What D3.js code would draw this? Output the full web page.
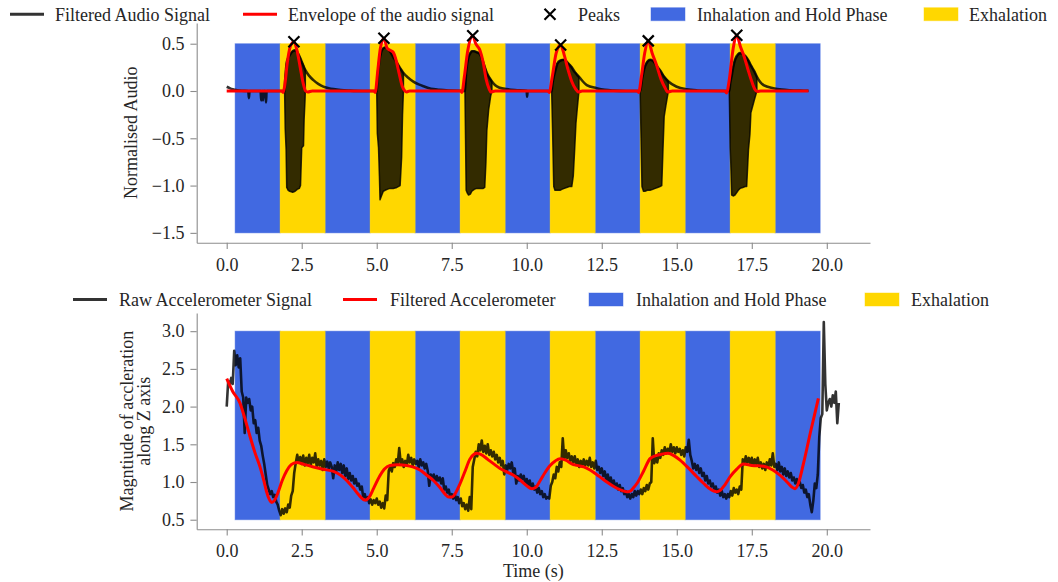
<!DOCTYPE html>
<html>
<head>
<meta charset="utf-8">
<script src="https://cdn.jsdelivr.net/npm/d3@7"></script>
<style>
  html, body { margin: 0; padding: 0; background: #fff; }
  svg { display: block; }
  text { font-family: "Liberation Serif", "Times New Roman", serif; fill: #262626; }
</style>
</head>
<body>
<svg id="chart" width="1058" height="582"></svg>
<script>
// ---------------- DATA ----------------
const inhaleStart = [0.28, 3.28, 6.28, 9.28, 12.28, 15.28, 18.28];
const inhaleEnd   = [1.78, 4.78, 7.78, 10.78, 13.78, 16.78, 19.78];
const exhaleStart = [1.78, 4.78, 7.78, 10.78, 13.78, 16.78];
const exhaleEnd   = [3.28, 6.28, 9.28, 12.28, 15.28, 18.28];

const xTicks = [0, 2.5, 5, 7.5, 10, 12.5, 15, 17.5, 20];
const audioYTicks = [-1.5, -1.0, -0.5, 0.0, 0.5];
const accelYTicks = [0.5, 1.0, 1.5, 2.0, 2.5, 3.0];

// Filtered audio: dense oscillation bursts (upper / lower outline)
const burstTime = [
  [1.93, 1.95, 1.98, 2.0, 2.05, 2.1, 2.2, 2.28, 2.35, 2.42, 2.46, 2.5, 2.56, 2.58, 2.61, 2.62],
  [5.0, 5.02, 5.06, 5.09, 5.11, 5.17, 5.22, 5.28, 5.35, 5.44, 5.55, 5.67, 5.78, 5.83, 5.86, 5.89],
  [7.94, 7.96, 7.98, 8.02, 8.06, 8.12, 8.17, 8.25, 8.33, 8.44, 8.55, 8.6, 8.64, 8.67, 8.73, 8.8, 8.84],
  [10.83, 10.86, 10.9, 10.94, 11.02, 11.11, 11.17, 11.25, 11.33, 11.42, 11.5, 11.55, 11.6, 11.64, 11.68, 11.74],
  [13.78, 13.81, 13.84, 13.89, 13.94, 14.02, 14.11, 14.2, 14.28, 14.36, 14.44, 14.5, 14.54, 14.58, 14.64, 14.72],
  [16.75, 16.78, 16.8, 16.83, 16.88, 16.94, 17.05, 17.11, 17.2, 17.28, 17.33, 17.39, 17.44, 17.47, 17.58, 17.67]
];
const burstUpper = [
  [0.0, 0.12, 0.24, 0.3, 0.35, 0.38, 0.42, 0.43, 0.41, 0.37, 0.34, 0.31, 0.27, 0.25, 0.23, 0.22],
  [0.0, 0.12, 0.25, 0.32, 0.36, 0.43, 0.45, 0.46, 0.45, 0.42, 0.36, 0.3, 0.24, 0.22, 0.2, 0.19],
  [0.0, 0.1, 0.2, 0.3, 0.36, 0.4, 0.42, 0.42, 0.41, 0.39, 0.3, 0.26, 0.22, 0.19, 0.15, 0.12, 0.1],
  [0.0, 0.08, 0.15, 0.2, 0.29, 0.32, 0.33, 0.33, 0.31, 0.28, 0.25, 0.22, 0.2, 0.19, 0.17, 0.15],
  [0.0, 0.05, 0.12, 0.2, 0.26, 0.31, 0.33, 0.32, 0.29, 0.25, 0.22, 0.19, 0.17, 0.15, 0.13, 0.1],
  [0.0, 0.08, 0.12, 0.16, 0.25, 0.33, 0.39, 0.4, 0.39, 0.37, 0.35, 0.32, 0.29, 0.27, 0.21, 0.15]
];
const burstLower = [
  [0.0, -0.4, -0.62, -1.02, -1.05, -1.06, -1.07, -1.06, -1.04, -1.03, -1.0, -0.6, -0.58, -0.3, -0.1, 0.0],
  [0.0, -0.45, -0.6, -0.9, -1.15, -1.1, -1.06, -1.05, -1.04, -1.03, -1.03, -1.02, -1.0, -0.7, -0.25, 0.0],
  [0.0, -0.5, -1.05, -1.08, -1.1, -1.09, -1.06, -1.04, -1.03, -1.03, -1.03, -1.02, -0.75, -0.42, -0.2, -0.05, 0.0],
  [0.0, -0.4, -1.01, -1.05, -1.05, -1.05, -1.04, -1.03, -1.02, -1.01, -1.01, -0.9, -0.6, -0.34, -0.2, 0.0],
  [0.0, -0.5, -1.01, -1.06, -1.06, -1.05, -1.05, -1.04, -1.03, -1.02, -1.01, -1.0, -0.62, -0.27, -0.15, 0.0],
  [0.0, -0.6, -0.76, -1.1, -1.11, -1.1, -1.05, -1.03, -1.02, -1.01, -1.01, -0.62, -0.45, -0.23, -0.1, 0.0]
];

// Filtered audio: slow component (upper trace and decaying tails)
const audioLineT = [0.0, 0.1, 0.2, 0.35, 0.5, 0.72, 0.74, 0.76, 1.13, 1.15, 1.17, 1.19, 1.21, 1.23, 1.29, 1.31, 1.33, 1.93,
  1.95, 1.98, 2.0, 2.05, 2.1, 2.2, 2.28, 2.35, 2.42, 2.5, 2.62, 2.75, 2.89, 3.05, 3.22, 3.4, 3.56, 3.8, 4.11, 4.5, 5.0,
  5.02, 5.06, 5.11, 5.17, 5.28, 5.44, 5.55, 5.67, 5.78, 5.89, 6.05, 6.22, 6.4, 6.56, 6.72, 6.89, 7.1, 7.44, 7.94,
  7.96, 7.98, 8.02, 8.06, 8.12, 8.17, 8.25, 8.33, 8.44, 8.55, 8.67, 8.84, 8.95, 9.1, 9.33, 9.6, 10.0, 10.01, 10.03, 10.83,
  10.86, 10.9, 10.94, 11.02, 11.11, 11.25, 11.33, 11.42, 11.5, 11.6, 11.74, 12.0, 12.33, 12.6, 12.89, 13.3, 13.78,
  13.81, 13.84, 13.89, 13.94, 14.02, 14.11, 14.2, 14.28, 14.36, 14.44, 14.58, 14.72, 15.0, 15.33, 15.7, 16.0, 16.75,
  16.78, 16.83, 16.88, 16.94, 17.05, 17.11, 17.2, 17.28, 17.39, 17.47, 17.58, 17.67, 17.89, 18.22, 18.5, 18.78, 19.1, 19.39];
const audioLineV = [0.045, 0.03, 0.018, 0.008, 0.003, 0.0, -0.075, 0.0, 0.0, -0.1, 0.0, 0.0, -0.1, 0.0, 0.0, -0.12, 0.0, 0.0,
  0.12, 0.24, 0.3, 0.35, 0.38, 0.42, 0.43, 0.41, 0.37, 0.31, 0.22, 0.16, 0.115, 0.075, 0.046, 0.03, 0.02, 0.01, 0.004, 0.0, 0.0,
  0.12, 0.25, 0.36, 0.43, 0.46, 0.42, 0.36, 0.3, 0.24, 0.19, 0.14, 0.1, 0.07, 0.05, 0.033, 0.02, 0.012, 0.005, 0.0,
  0.1, 0.2, 0.3, 0.36, 0.4, 0.42, 0.42, 0.41, 0.39, 0.3, 0.19, 0.1, 0.06, 0.035, 0.02, 0.01, 0.003, -0.06, 0.0, 0.0,
  0.08, 0.15, 0.2, 0.29, 0.32, 0.33, 0.31, 0.28, 0.25, 0.2, 0.15, 0.063, 0.03, 0.012, 0.004, 0.0, 0.0,
  0.05, 0.12, 0.2, 0.26, 0.31, 0.33, 0.32, 0.29, 0.25, 0.22, 0.15, 0.1, 0.045, 0.018, 0.006, 0.002, 0.0,
  0.08, 0.16, 0.25, 0.33, 0.39, 0.4, 0.39, 0.37, 0.32, 0.27, 0.21, 0.15, 0.063, 0.03, 0.015, 0.008, 0.004, 0.002];

// Envelope of the audio signal
const envT = [0.0, 1.84, 1.88, 1.93, 2.02, 2.12, 2.24, 2.35, 2.45, 2.55, 2.63, 2.7, 2.85, 4.9, 4.95, 5.03, 5.12, 5.24,
  5.35, 5.45, 5.55, 5.65, 5.75, 5.85, 5.94, 6.0, 6.1, 7.8, 7.84, 7.92, 8.03, 8.2, 8.3, 8.44, 8.55, 8.65, 8.75, 8.8, 8.95,
  10.7, 10.75, 10.85, 10.98, 11.13, 11.25, 11.38, 11.5, 11.63, 11.72, 11.85, 13.68, 13.73, 13.82, 13.93, 14.05, 14.18,
  14.33, 14.48, 14.6, 14.7, 14.85, 16.6, 16.66, 16.75, 16.88, 17.0, 17.12, 17.25, 17.38, 17.5, 17.6, 17.68, 17.8, 19.39];
const envV = [0.0, 0.0, -0.015, 0.05, 0.3, 0.47, 0.52, 0.42, 0.25, 0.08, 0.0, -0.01, 0.0, 0.0, -0.015, 0.2, 0.45, 0.557,
  0.45, 0.43, 0.41, 0.32, 0.18, 0.05, 0.0, -0.01, 0.0, 0.0, -0.015, 0.15, 0.42, 0.585, 0.5, 0.43, 0.3, 0.12, 0.02, -0.01, 0.0,
  0.0, -0.015, 0.15, 0.4, 0.486, 0.38, 0.22, 0.1, 0.02, -0.01, 0.0, 0.0, -0.015, 0.15, 0.4, 0.53, 0.4,
  0.27, 0.12, 0.04, -0.01, 0.0, 0.0, -0.02, 0.12, 0.45, 0.59, 0.47, 0.36, 0.22, 0.1, 0.02, -0.005, 0.0, 0.0];

// Peaks
const peakT = [2.24, 5.24, 8.2, 11.13, 14.05, 17.0];
const peakV = [0.52, 0.557, 0.585, 0.486, 0.53, 0.59];

// Raw accelerometer signal [time, value] (every 0.05 s)
const rawSignal = [
  [0.00,2.00],[0.05,2.34],[0.10,2.28],[0.15,2.38],[0.20,2.30],[0.25,2.74],[0.30,2.55],[0.35,2.68],[0.40,2.52],[0.45,2.64],
  [0.50,2.20],[0.55,2.12],[0.60,1.65],[0.65,2.12],[0.70,2.05],[0.75,2.10],[0.80,1.95],[0.85,2.00],[0.90,1.78],[0.95,1.82],
  [1.00,1.65],[1.05,1.72],[1.10,1.55],[1.15,1.48],[1.20,1.35],[1.25,1.24],[1.30,1.10],[1.35,0.96],[1.40,0.90],[1.45,0.84],
  [1.50,0.88],[1.55,0.80],[1.60,0.83],[1.65,0.74],[1.70,0.70],[1.75,0.62],[1.80,0.56],[1.85,0.64],[1.90,0.58],[1.95,0.65],
  [2.00,0.60],[2.05,0.70],[2.10,0.66],[2.15,0.82],[2.20,0.88],[2.25,1.12],[2.30,1.25],[2.35,1.36],[2.40,1.26],[2.45,1.33],
  [2.50,1.24],[2.55,1.35],[2.60,1.22],[2.65,1.32],[2.70,1.25],[2.75,1.36],[2.80,1.22],[2.85,1.32],[2.90,1.26],[2.95,1.38],
  [3.00,1.20],[3.05,1.30],[3.10,1.22],[3.15,1.28],[3.20,1.16],[3.25,1.30],[3.30,1.20],[3.35,1.27],[3.40,1.18],[3.45,1.26],
  [3.50,1.20],[3.55,1.05],[3.60,1.22],[3.65,1.14],[3.70,1.26],[3.75,1.16],[3.80,1.24],[3.85,1.12],[3.90,1.22],[3.95,1.08],
  [4.00,1.18],[4.05,1.04],[4.10,1.12],[4.15,1.02],[4.20,1.08],[4.25,0.98],[4.30,1.04],[4.35,0.95],[4.40,0.98],[4.45,0.90],
  [4.50,0.94],[4.55,0.80],[4.60,0.84],[4.65,0.76],[4.70,0.80],[4.75,0.72],[4.80,0.77],[4.85,0.70],[4.90,0.76],[4.95,0.72],
  [5.00,0.78],[5.05,0.70],[5.10,0.74],[5.15,0.66],[5.20,0.72],[5.25,0.65],[5.30,0.82],[5.35,0.76],[5.40,1.15],[5.45,1.20],
  [5.50,1.14],[5.55,1.25],[5.60,1.20],[5.65,1.30],[5.70,1.24],[5.75,1.45],[5.80,1.25],[5.85,1.30],[5.90,1.20],[5.95,1.28],
  [6.00,1.22],[6.05,1.36],[6.10,1.26],[6.15,1.32],[6.20,1.22],[6.25,1.30],[6.30,1.24],[6.35,1.28],[6.40,1.20],[6.45,1.30],
  [6.50,1.22],[6.55,1.26],[6.60,1.18],[6.65,1.24],[6.70,1.15],[6.75,0.95],[6.80,1.10],[6.85,1.04],[6.90,1.10],[6.95,1.00],
  [7.00,1.08],[7.05,1.02],[7.10,1.06],[7.15,0.98],[7.20,1.05],[7.25,0.90],[7.30,0.94],[7.35,0.86],[7.40,0.90],[7.45,0.80],
  [7.50,0.84],[7.55,0.78],[7.60,0.84],[7.65,0.76],[7.70,0.80],[7.75,0.72],[7.80,0.78],[7.85,0.68],[7.90,0.72],[7.95,0.64],
  [8.00,0.70],[8.05,0.62],[8.10,0.80],[8.15,0.64],[8.20,1.20],[8.25,1.30],[8.30,1.40],[8.35,1.34],[8.40,1.50],[8.45,1.42],
  [8.50,1.55],[8.55,1.40],[8.60,1.48],[8.65,1.38],[8.70,1.50],[8.75,1.36],[8.80,1.42],[8.85,1.34],[8.90,1.40],[8.95,1.30],
  [9.00,1.36],[9.05,1.26],[9.10,1.32],[9.15,1.22],[9.20,1.28],[9.25,1.10],[9.30,1.22],[9.35,1.16],[9.40,1.24],[9.45,1.18],
  [9.50,1.26],[9.55,1.12],[9.60,1.18],[9.65,0.98],[9.70,1.08],[9.75,1.02],[9.80,1.10],[9.85,1.04],[9.90,1.08],[9.95,0.98],
  [10.00,1.04],[10.05,0.96],[10.10,1.02],[10.15,0.92],[10.20,0.98],[10.25,0.90],[10.30,0.94],[10.35,0.86],[10.40,0.92],[10.45,0.84],
  [10.50,0.88],[10.55,0.80],[10.60,0.84],[10.65,0.78],[10.70,0.80],[10.75,0.78],[10.80,0.95],[10.85,1.00],[10.90,1.10],[10.95,1.05],
  [11.00,1.20],[11.05,1.14],[11.10,1.26],[11.15,1.20],[11.20,1.58],[11.25,1.30],[11.30,1.42],[11.35,1.32],[11.40,1.38],[11.45,1.28],
  [11.50,1.34],[11.55,1.26],[11.60,1.34],[11.65,1.24],[11.70,1.30],[11.75,1.20],[11.80,1.28],[11.85,1.22],[11.90,1.30],[11.95,1.22],
  [12.00,1.28],[12.05,1.22],[12.10,1.32],[12.15,1.20],[12.20,1.26],[12.25,1.18],[12.30,1.28],[12.35,1.16],[12.40,1.20],[12.45,1.12],
  [12.50,1.18],[12.55,1.08],[12.60,1.14],[12.65,1.02],[12.70,1.10],[12.75,1.00],[12.80,1.06],[12.85,0.96],[12.90,1.02],[12.95,0.94],
  [13.00,0.98],[13.05,0.90],[13.10,0.96],[13.15,0.88],[13.20,0.92],[13.25,0.84],[13.30,0.88],[13.35,0.80],[13.40,0.84],[13.45,0.78],
  [13.50,0.84],[13.55,0.80],[13.60,0.88],[13.65,0.82],[13.70,0.88],[13.75,0.84],[13.80,0.90],[13.85,0.84],[13.90,0.92],[13.95,0.88],
  [14.00,0.96],[14.05,0.90],[14.10,0.98],[14.15,1.00],[14.20,1.58],[14.25,1.25],[14.30,1.32],[14.35,1.26],[14.40,1.38],[14.45,1.32],
  [14.50,1.42],[14.55,1.36],[14.60,1.46],[14.65,1.38],[14.70,1.44],[14.75,1.38],[14.80,1.50],[14.85,1.40],[14.90,1.46],[14.95,1.38],
  [15.00,1.46],[15.05,1.40],[15.10,1.44],[15.15,1.36],[15.20,1.42],[15.25,1.34],[15.30,1.46],[15.35,1.40],[15.40,1.56],[15.45,1.36],
  [15.50,1.28],[15.55,1.18],[15.60,1.24],[15.65,1.16],[15.70,1.22],[15.75,1.12],[15.80,1.18],[15.85,1.08],[15.90,1.12],[15.95,1.02],
  [16.00,1.08],[16.05,0.98],[16.10,1.02],[16.15,0.94],[16.20,0.98],[16.25,0.90],[16.30,0.94],[16.35,0.86],[16.40,0.90],[16.45,0.82],
  [16.50,0.88],[16.55,0.80],[16.60,0.84],[16.65,0.78],[16.70,0.84],[16.75,0.80],[16.80,0.88],[16.85,0.82],[16.90,0.92],[16.95,0.86],
  [17.00,0.90],[17.05,0.84],[17.10,0.94],[17.15,0.90],[17.20,1.30],[17.25,1.24],[17.30,1.34],[17.35,1.26],[17.40,1.32],[17.45,1.24],
  [17.50,1.32],[17.55,1.22],[17.60,1.30],[17.65,1.24],[17.70,1.32],[17.75,1.20],[17.80,1.26],[17.85,1.18],[17.90,1.24],[17.95,1.16],
  [18.00,1.26],[18.05,1.20],[18.10,1.30],[18.15,1.22],[18.20,1.38],[18.25,1.20],[18.30,1.24],[18.35,1.16],[18.40,1.26],[18.45,1.14],
  [18.50,1.20],[18.55,1.10],[18.60,1.18],[18.65,1.08],[18.70,1.14],[18.75,1.06],[18.80,1.12],[18.85,1.02],[18.90,1.06],[18.95,0.98],
  [19.00,1.04],[19.05,0.96],[19.10,1.00],[19.15,0.92],[19.20,0.96],[19.25,0.86],[19.30,0.90],[19.35,0.80],[19.40,0.84],[19.45,0.70],
  [19.50,0.60],[19.55,0.75],[19.60,0.98],[19.65,0.92],[19.70,1.10],[19.75,1.60],[19.80,1.85],[19.85,1.90],[19.90,3.12],[19.95,2.30],
  [20.00,1.95],[20.05,2.05],[20.10,2.10],[20.15,2.00],[20.20,2.15],[20.25,2.05],[20.30,2.20],[20.35,1.78],[20.40,2.05]
];

// Filtered accelerometer
const accT = [0.0, 0.2, 0.44, 0.6, 0.78, 0.95, 1.11, 1.25, 1.33, 1.42, 1.5, 1.58, 1.7, 1.85, 2.0, 2.15, 2.33, 2.6, 2.89,
  3.2, 3.56, 3.8, 4.0, 4.2, 4.4, 4.55, 4.62, 4.75, 4.9, 5.1, 5.25, 5.44, 5.7, 6.0, 6.2, 6.44, 6.7, 6.89, 7.1, 7.3, 7.39,
  7.5, 7.65, 7.78, 7.95, 8.1, 8.25, 8.33, 8.5, 8.7, 8.9, 9.11, 9.3, 9.56, 9.8, 10.0, 10.17, 10.3, 10.45, 10.6, 10.78,
  10.95, 11.11, 11.3, 11.5, 11.67, 11.9, 12.11, 12.4, 12.67, 12.9, 13.1, 13.33, 13.45, 13.55, 13.67, 13.9, 14.11, 14.3,
  14.5, 14.72, 14.9, 15.11, 15.4, 15.67, 15.9, 16.1, 16.33, 16.45, 16.6, 16.78, 17.0, 17.22, 17.5, 17.89, 18.2, 18.44,
  18.7, 18.85, 18.94, 19.05, 19.22, 19.45, 19.72];
const accV = [2.37, 2.2, 2.05, 1.85, 1.6, 1.38, 1.2, 1.0, 0.87, 0.77, 0.73, 0.75, 0.85, 1.02, 1.15, 1.23, 1.26, 1.23, 1.2,
  1.17, 1.14, 1.09, 1.02, 0.93, 0.83, 0.77, 0.76, 0.8, 0.92, 1.08, 1.17, 1.22, 1.23, 1.22, 1.2, 1.16, 1.08, 1.02, 0.93, 0.83,
  0.8, 0.8, 0.87, 0.98, 1.15, 1.3, 1.37, 1.38, 1.36, 1.3, 1.24, 1.18, 1.14, 1.09, 1.02, 0.95, 0.91, 0.93, 1.02, 1.12, 1.22,
  1.28, 1.31, 1.29, 1.24, 1.22, 1.2, 1.16, 1.08, 1.0, 0.94, 0.9, 0.87, 0.88, 0.92, 0.98, 1.15, 1.31, 1.35, 1.37, 1.38, 1.35,
  1.29, 1.18, 1.07, 0.98, 0.91, 0.87, 0.89, 0.96, 1.07, 1.17, 1.24, 1.22, 1.21, 1.16, 1.09, 0.99, 0.93, 0.91, 0.98, 1.24,
  1.65, 2.11];

// ---------------- STYLE / LAYOUT ----------------
const BLUE = "#4169e1", GOLD = "#ffd700";
const SPINE = "#8c8c8c";
const FONT = 18;
const left = 196.7, right = 870;
const top1 = 23, bot1 = 242.7;
const top2 = 313, bot2 = 529.3;

const svg = d3.select("#chart");

const x = d3.scaleLinear().domain([-1.0, 21.44]).range([left, right]);
const yA = d3.scaleLinear().domain([-1.604, 0.719]).range([bot1, top1]);
const yB = d3.scaleLinear().domain([0.373, 3.241]).range([bot2, top2]);

function bands(g, y, lo, hi) {
  const spans = inhaleStart.map((s, i) => ({ s, e: inhaleEnd[i], c: BLUE }))
    .concat(exhaleStart.map((s, i) => ({ s, e: exhaleEnd[i], c: GOLD })));
  g.selectAll(null).data(spans).enter().append("rect")
    .attr("x", d => x(d.s)).attr("width", d => x(d.e) - x(d.s))
    .attr("y", y(hi)).attr("height", y(lo) - y(hi))
    .attr("fill", d => d.c)
    .attr("stroke", d => d.c).attr("stroke-opacity", 0.45).attr("stroke-width", 1);
}

function axes(g, y, yTicks, bottom) {
  const ax = g.append("g").attr("transform", `translate(0,${bottom})`)
    .call(d3.axisBottom(x).tickValues(xTicks).tickFormat(d3.format(".1f"))
      .tickSize(6.3).tickSizeOuter(0).tickPadding(9));
  const ay = g.append("g").attr("transform", `translate(${left},0)`)
    .call(d3.axisLeft(y).tickValues(yTicks).tickFormat(d3.format(".1f"))
      .tickSize(6.3).tickSizeOuter(0).tickPadding(6));
  [ax, ay].forEach(a => {
    a.select(".domain").attr("stroke", SPINE).attr("stroke-width", 1.1);
    a.selectAll(".tick line").attr("stroke", SPINE).attr("stroke-width", 1.1);
    a.selectAll(".tick text").attr("font-size", FONT).attr("font-family", "Liberation Serif").attr("fill", "#262626");
  });
}

// ---------------- TOP PANEL ----------------
const g1 = svg.append("g");
bands(g1, yA, -1.5, 0.5);

const area = d3.area().x(d => x(d[0])).y0(d => yA(d[2])).y1(d => yA(d[1]));
burstTime.forEach((ts, i) => {
  const pts = ts.map((t, j) => [t, burstUpper[i][j], burstLower[i][j]]);
  g1.append("path").datum(pts).attr("d", area)
    .attr("fill", "#000").attr("fill-opacity", 0.8)
    .attr("stroke", "#000").attr("stroke-opacity", 0.8).attr("stroke-width", 1.5).attr("stroke-linejoin", "round");
});

g1.append("path").datum(audioLineT.map((t, i) => [t, audioLineV[i]]))
  .attr("d", d3.line().x(d => x(d[0])).y(d => yA(d[1])).curve(d3.curveMonotoneX))
  .attr("fill", "none").attr("stroke", "#000").attr("stroke-opacity", 0.8)
  .attr("stroke-width", 2.6).attr("stroke-linejoin", "round");

g1.append("path").datum(envT.map((t, i) => [t, envV[i]]))
  .attr("d", d3.line().x(d => x(d[0])).y(d => yA(d[1])).curve(d3.curveMonotoneX))
  .attr("fill", "none").attr("stroke", "#ff0000").attr("stroke-width", 3).attr("stroke-linejoin", "round");

const xMark = (cx, cy, r) => `M${cx - r},${cy - r}L${cx + r},${cy + r}M${cx - r},${cy + r}L${cx + r},${cy - r}`;
g1.selectAll(null).data(peakT.map((t, i) => [t, peakV[i]])).enter().append("path")
  .attr("d", d => xMark(x(d[0]), yA(d[1]), 5.5))
  .attr("stroke", "#000").attr("stroke-width", 2.2).attr("fill", "none");

axes(g1, yA, audioYTicks, bot1);

g1.append("text").attr("transform", `translate(137.3,${(top1 + bot1) / 2}) rotate(-90)`)
  .attr("text-anchor", "middle").attr("font-size", FONT).text("Normalised Audio");

// ---------------- BOTTOM PANEL ----------------
const g2 = svg.append("g");
bands(g2, yB, 0.5, 3.0);

g2.append("path").datum(rawSignal)
  .attr("d", d3.line().x(d => x(d[0])).y(d => yB(d[1])))
  .attr("fill", "none").attr("stroke", "#000").attr("stroke-opacity", 0.8)
  .attr("stroke-width", 2.6).attr("stroke-linejoin", "round");

g2.append("path").datum(accT.map((t, i) => [t, accV[i]]))
  .attr("d", d3.line().x(d => x(d[0])).y(d => yB(d[1])).curve(d3.curveMonotoneX))
  .attr("fill", "none").attr("stroke", "#ff0000").attr("stroke-width", 3).attr("stroke-linejoin", "round");

axes(g2, yB, accelYTicks, bot2);

const yl = g2.append("text").attr("text-anchor", "middle").attr("font-size", FONT);
yl.append("tspan").attr("x", 0).attr("y", 0).text("Magntiude of accleration");
yl.append("tspan").attr("x", 0).attr("y", 16.5).text("along Z axis");
yl.attr("transform", `translate(133.3,${(top2 + bot2) / 2}) rotate(-90)`);

svg.append("text").attr("x", (left + right) / 2).attr("y", 577)
  .attr("text-anchor", "middle").attr("font-size", FONT).text("Time (s)");

// ---------------- LEGENDS ----------------
function legend(items, baseline) {
  const g = svg.append("g");
  const cy = baseline - 6.5;
  items.forEach(it => {
    if (it.kind === "line") {
      g.append("line").attr("x1", it.x).attr("x2", it.x + 34).attr("y1", cy).attr("y2", cy)
        .attr("stroke", it.color).attr("stroke-opacity", it.op || 1).attr("stroke-width", 3);
    } else if (it.kind === "patch") {
      g.append("rect").attr("x", it.x).attr("y", cy - 6.5).attr("width", 34).attr("height", 13)
        .attr("fill", it.color).attr("stroke", it.color).attr("stroke-opacity", 0.45);
    } else {
      g.append("path").attr("d", xMark(it.x + 6, cy, 5.5)).attr("stroke", "#000").attr("stroke-width", 2.2);
    }
    g.append("text").attr("x", it.tx).attr("y", baseline).attr("font-size", FONT).text(it.label);
  });
}
legend([
  { kind: "line", x: 10, color: "#000", op: 0.8, tx: 55, label: "Filtered Audio Signal" },
  { kind: "line", x: 243, color: "#ff0000", tx: 288, label: "Envelope of the audio signal" },
  { kind: "marker", x: 544, tx: 578, label: "Peaks" },
  { kind: "patch", x: 651, color: BLUE, tx: 697, label: "Inhalation and Hold Phase" },
  { kind: "patch", x: 924, color: GOLD, tx: 969, label: "Exhalation" }
], 20.7);
legend([
  { kind: "line", x: 73, color: "#000", op: 0.8, tx: 119, label: "Raw Accelerometer Signal" },
  { kind: "line", x: 343, color: "#ff0000", tx: 390, label: "Filtered Accelerometer" },
  { kind: "patch", x: 589, color: BLUE, tx: 636, label: "Inhalation and Hold Phase" },
  { kind: "patch", x: 865, color: GOLD, tx: 911, label: "Exhalation" }
], 306);
</script>
</body>
</html>
